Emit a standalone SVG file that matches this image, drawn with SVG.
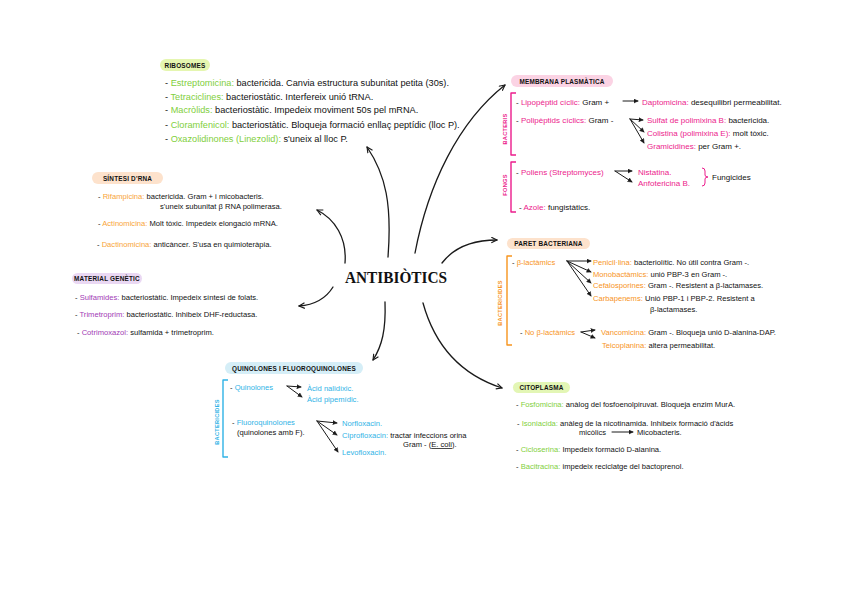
<svg xmlns="http://www.w3.org/2000/svg" width="848" height="599" viewBox="0 0 848 599">
<defs>
<marker id="ah" viewBox="0 0 8 8" refX="7" refY="4" markerWidth="7" markerHeight="7" orient="auto" markerUnits="userSpaceOnUse">
<path d="M0.5,0.8 L7,4 L0.5,7.2" fill="none" stroke="#1a1a1a" stroke-width="1.3" stroke-linejoin="round"/>
</marker>
<marker id="sa" viewBox="0 0 8 8" refX="7" refY="4" markerWidth="5" markerHeight="5" orient="auto" markerUnits="userSpaceOnUse">
<path d="M0.5,0.8 L7,4 L0.5,7.2 Z" fill="#1a1a1a" stroke="#1a1a1a" stroke-width="0.8" stroke-linejoin="round"/>
</marker>
</defs>
<style>
text{font-family:"Liberation Sans",Arial,sans-serif;font-size:7.6px;fill:#111111}
.big text{font-size:9.2px}
.mid text{font-size:8px}
.h{font-size:6.4px;font-weight:bold;text-anchor:middle;letter-spacing:0.2px}
.big .h,.mid .h{font-size:6.4px}
.v{font-size:5.6px;font-weight:bold;text-anchor:middle;letter-spacing:0.3px}
.mid .v{font-size:5.6px}
.title{font-family:"Liberation Serif","DejaVu Serif",serif;font-size:17px;font-weight:bold;text-anchor:middle}
.g{fill:#7fcf3c}
.o{fill:#f8a437}
.p{fill:#a23bb5}
.b{fill:#2fb3e6}
.m{fill:#ec1c8c}
.r{fill:#f7941d}
.con{fill:none;stroke:#1a1a1a;stroke-width:1.3;stroke-linecap:round;marker-end:url(#ah)}
.sm{fill:none;stroke:#1a1a1a;stroke-width:1;stroke-linecap:round;marker-end:url(#sa)}
.br{fill:none;stroke-width:1.4;stroke-linejoin:round}
</style>
<rect width="848" height="599" fill="#ffffff"/>

<g id="connectors">
<path class="con" d="M388,257 C392,205 386,175 367,147"/>
<path class="con" d="M415,253 C428,185 458,122 505,85"/>
<path class="con" d="M442,263 C455,246 474,240 497,240"/>
<path class="con" d="M423,303 C436,350 465,376 502,388"/>
<path class="con" d="M385,302 C386,330 382,346 373,360"/>
<path class="con" d="M345,263 C347,238 335,219 317,210"/>
<path class="con" d="M333,287 C325,300 313,305 299,306"/>
</g>

<g id="center">
<text class="title" x="396" y="283" textLength="102" lengthAdjust="spacingAndGlyphs">ANTIBIÒTICS</text>
</g>

<g id="ribosomes" class="big">
<rect x="160" y="59" width="50" height="12" rx="6" fill="#e5f6b0"/>
<text class="h" x="185" y="67.5">RIBOSOMES</text>
<text x="165" y="86">- <tspan class="g">Estreptomicina:</tspan> bactericida. Canvia estructura subunitat petita (30s).</text>
<text x="165" y="100">- <tspan class="g">Tetraciclines:</tspan> bacteriostàtic. Interfereix unió tRNA.</text>
<text x="165" y="113">- <tspan class="g">Macròlids:</tspan> bacteriostàtic. Impedeix moviment 50s pel mRNA.</text>
<text x="165" y="128">- <tspan class="g">Cloramfenicol:</tspan> bacteriostàtic. Bloqueja formació enllaç peptídic (lloc P).</text>
<text x="165" y="142">- <tspan class="g">Oxazolidinones (Linezolid):</tspan> s'uneix al lloc P.</text>
</g>

<g id="sintesi-rna">
<rect x="92" y="172" width="71" height="12" rx="6" fill="#fde2cc"/>
<text class="h" x="127.5" y="180.5">SÍNTESI D'RNA</text>
<text x="98" y="199">- <tspan class="o">Rifampicina:</tspan> bactericida. Gram + i micobacteris.</text>
<text x="160" y="209">s'uneix subunitat β RNA polimerasa.</text>
<text x="98" y="226">- <tspan class="o">Actinomicina:</tspan> Molt tòxic. Impedeix elongació mRNA.</text>
<text x="97" y="247">- <tspan class="o">Dactinomicina:</tspan> anticàncer. S'usa en quimioteràpia.</text>
</g>

<g id="material-genetic">
<rect x="72" y="273" width="70" height="11" rx="5.5" fill="#ead8f3"/>
<text class="h" x="107" y="281">MATERIAL GENÈTIC</text>
<text x="75" y="300">- <tspan class="p">Sulfamides:</tspan> bacteriostàtic. Impedeix síntesi de folats.</text>
<text x="75" y="317">- <tspan class="p">Trimetroprim:</tspan> bacteriostàtic. Inhibeix DHF-reductasa.</text>
<text x="77" y="335">- <tspan class="p">Cotrimoxazol:</tspan> sulfamida + trimetroprim.</text>
</g>

<g id="quinolones">
<rect x="225" y="362" width="138" height="12" rx="6" fill="#d5eef7"/>
<text class="h" x="294" y="370.5">QUINOLONES I FLUOROQUINOLONES</text>
<path class="br" stroke="#2fb3e6" d="M228,380 H223 V457 H228"/>
<text class="v b" transform="translate(219,422) rotate(-90)">BACTERICIDES</text>
<text x="230" y="390">- <tspan class="b">Quinolones</tspan></text>
<path class="sm" d="M287,386 L301,387"/>
<path class="sm" d="M287,386 L302,397"/>
<text class="b" x="307" y="391">Àcid nalidíxic.</text>
<text class="b" x="307" y="402">Àcid pipemídic.</text>
<text x="232" y="425">- <tspan class="b">Fluoroquinolones</tspan></text>
<text x="237" y="435">(quinolones amb F).</text>
<path class="sm" d="M317,421 L337,423"/>
<path class="sm" d="M317,421 L337,435"/>
<path class="sm" d="M317,421 L338,452"/>
<text class="b" x="342" y="426">Norfloxacin.</text>
<text x="342" y="438"><tspan class="b">Ciprofloxacin:</tspan> tractar infeccions orina</text>
<text x="403" y="447">Gram - (<tspan style="text-decoration:underline">E. coli</tspan>).</text>
<text class="b" x="342" y="455">Levofloxacin.</text>
</g>

<g id="membrana-plasmatica" class="mid">
<rect x="511" y="75" width="102" height="12" rx="6" fill="#fbd3e4"/>
<text class="h" x="562" y="83.5">MEMBRANA PLASMÀTICA</text>
<path class="br" stroke="#ec1c8c" d="M516,93 H511 V155 H516"/>
<text class="v m" transform="translate(507,129) rotate(-90)">BACTERIS</text>
<text x="516" y="105">- <tspan class="m">Lipopèptid cíclic:</tspan> Gram +</text>
<path class="sm" d="M623,101 L638,101"/>
<text x="642" y="105"><tspan class="m">Daptomicina:</tspan> desequilibri permeabilitat.</text>
<text x="516" y="123">- <tspan class="m">Polipèptids cíclics:</tspan> Gram -</text>
<path class="sm" d="M630,119 L643,120"/>
<path class="sm" d="M630,119 L644,132"/>
<path class="sm" d="M630,119 L644,143"/>
<text x="647" y="123"><tspan class="m">Sulfat de polimixina B:</tspan> bactericida.</text>
<text x="647" y="136"><tspan class="m">Colistina (polimixina E):</tspan> molt tòxic.</text>
<text x="647" y="149"><tspan class="m">Gramicidines:</tspan> per Gram +.</text>
<path class="br" stroke="#ec1c8c" d="M516,162 H511 V212 H516"/>
<text class="v m" transform="translate(507,185) rotate(-90)">FONGS</text>
<text x="516" y="175">- <tspan class="m">Poliens (Streptomyces)</tspan></text>
<path class="sm" d="M615,171 L632,171"/>
<path class="sm" d="M615,171 L632,182"/>
<text class="m" x="638" y="175">Nistatina.</text>
<text class="m" x="638" y="186">Anfotericina B.</text>
<path fill="none" stroke="#ec1c8c" stroke-width="1" d="M702,168 Q705,168 705,171 V175 Q705,177 708,177 Q705,177 705,179 V183 Q705,186 702,186"/>
<text x="712" y="180">Fungicides</text>
<text x="519" y="210">- <tspan class="m">Azole:</tspan> fungistàtics.</text>
</g>

<g id="paret-bacteriana">
<rect x="507" y="238" width="83" height="11" rx="5.5" fill="#fde2cc"/>
<text class="h" x="548.5" y="246">PARET BACTERIANA</text>
<path class="br" stroke="#f7941d" d="M512,256 H507 V345 H512"/>
<text class="v r" transform="translate(502,303) rotate(-90)">BACTERICIDES</text>
<text x="512" y="265">- <tspan class="r">β-lactàmics</tspan></text>
<path class="sm" d="M567,261 L591,261"/>
<path class="sm" d="M567,261 L591,272"/>
<path class="sm" d="M567,261 L591,283"/>
<path class="sm" d="M567,261 L591,296"/>
<text x="593" y="265"><tspan class="r">Penicil·lina:</tspan> bacteriolític. No útil contra Gram -.</text>
<text x="593" y="277"><tspan class="r">Monobactàmics:</tspan> unió PBP-3 en Gram -.</text>
<text x="593" y="288"><tspan class="r">Cefalosporines:</tspan> Gram -. Resistent a β-lactamases.</text>
<text x="593" y="301"><tspan class="r">Carbapenems:</tspan> Unió PBP-1 i PBP-2. Resistent a</text>
<text x="650" y="312">β-lactamases.</text>
<text x="520" y="335">- <tspan class="r">No β-lactàmics</tspan></text>
<path class="sm" d="M581,332 L595,330"/>
<path class="sm" d="M581,332 L595,338"/>
<text x="601" y="335"><tspan class="r">Vancomicina:</tspan> Gram -. Bloqueja unió D-alanina-DAP.</text>
<text x="602" y="348"><tspan class="r">Teicoplanina:</tspan> altera permeabilitat.</text>
</g>

<g id="citoplasma">
<rect x="513" y="382" width="57" height="11" rx="5.5" fill="#e3f6b5"/>
<text class="h" x="541.5" y="390">CITOPLASMA</text>
<text x="516" y="407">- <tspan class="g">Fosfomicina:</tspan> anàlog del fosfoenolpiruvat. Bloqueja enzim MurA.</text>
<text x="517" y="426">- <tspan class="g">Isoniacida:</tspan> anàleg de la nicotinamida. Inhibeix formació d'àcids</text>
<text x="579" y="435">micòlics</text>
<path class="sm" d="M612,432 L633,432"/>
<text x="637" y="435">Micobacteris.</text>
<text x="516" y="452">- <tspan class="g">Cicloserina:</tspan> Impedeix formació D-alanina.</text>
<text x="516" y="469">- <tspan class="g">Bacitracina:</tspan> impedeix reciclatge del bactoprenol.</text>
</g>
</svg>
